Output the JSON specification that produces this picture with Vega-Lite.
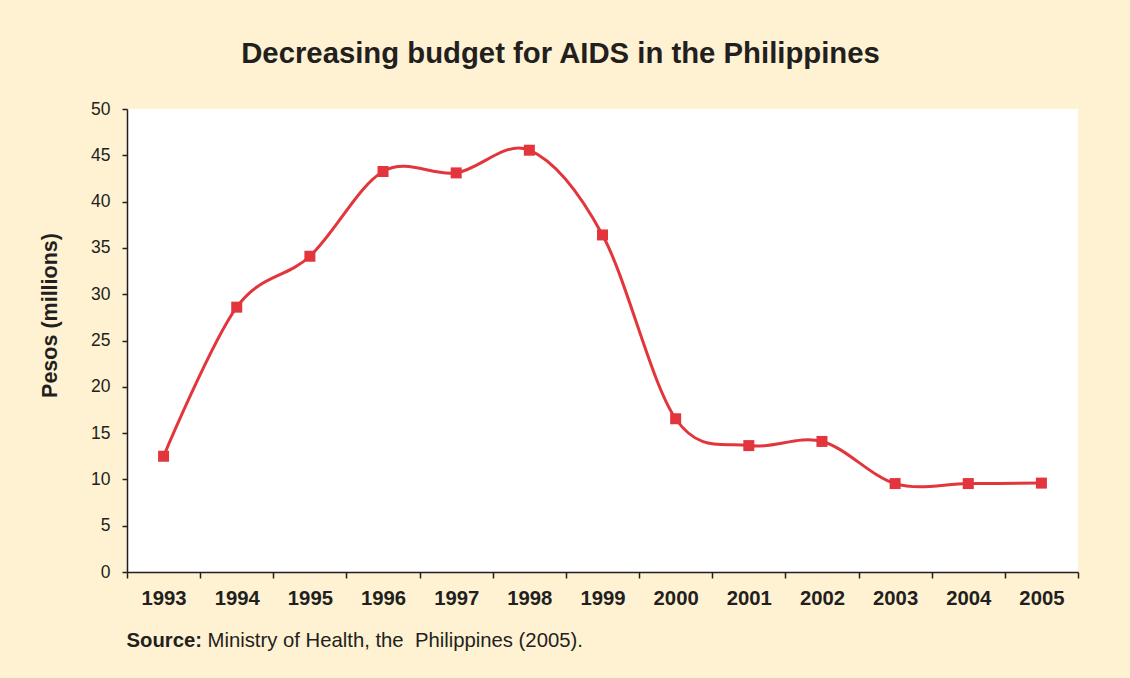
{
  "$schema": "https://vega.github.io/schema/vega-lite/v6.json",
  "width": 951,
  "height": 463,
  "autosize": {"type": "none"},
  "padding": {"left": 127, "top": 109, "right": 52, "bottom": 106},
  "background": "#FEF2D2",
  "title": {
    "text": "Decreasing budget for AIDS in the Philippines",
    "font": "Liberation Sans",
    "fontSize": 29.3,
    "fontWeight": "bold",
    "color": "#231F20",
    "anchor": "middle",
    "dx": -42,
    "offset": 31
  },
  "config": {
    "view": {"fill": "white", "stroke": null},
    "font": "Liberation Sans"
  },
  "data": {
    "values": [
      {"year": "1993", "pesos": 12.5},
      {"year": "1994", "pesos": 28.6},
      {"year": "1995", "pesos": 34.1},
      {"year": "1996", "pesos": 43.25},
      {"year": "1997", "pesos": 43.1},
      {"year": "1998", "pesos": 45.55},
      {"year": "1999", "pesos": 36.4},
      {"year": "2000", "pesos": 16.55},
      {"year": "2001", "pesos": 13.65},
      {"year": "2002", "pesos": 14.1},
      {"year": "2003", "pesos": 9.55},
      {"year": "2004", "pesos": 9.55},
      {"year": "2005", "pesos": 9.6}
    ]
  },
  "encoding": {
    "y": {
      "field": "pesos",
      "type": "quantitative",
      "scale": {"domain": [0, 50]},
      "axis": {
        "values": [0, 5, 10, 15, 20, 25, 30, 35, 40, 45, 50],
        "grid": false,
        "tickSize": 5,
        "labelPadding": 12,
        "domainColor": "#231F20",
        "domainWidth": 1.5,
        "tickColor": "#231F20",
        "tickWidth": 1.5,
        "labelColor": "#231F20",
        "labelFont": "Liberation Sans",
        "labelFontSize": 17.5,
        "title": "Pesos (millions)",
        "titleFont": "Liberation Sans",
        "titleFontSize": 21.5,
        "titleFontWeight": "bold",
        "titleColor": "#231F20",
        "titleAngle": -90,
        "titleAlign": "center",
        "titleBaseline": "middle",
        "titleX": -77,
        "titleY": 206
      }
    }
  },
  "layer": [
    {
      "mark": {"type": "line", "interpolate": "cardinal", "color": "#E2353C", "strokeWidth": 3},
      "encoding": {
        "x": {
          "field": "year",
          "type": "ordinal",
          "scale": {"type": "band", "paddingInner": 0, "paddingOuter": 0},
          "axis": {
            "orient": "bottom",
            "labelAngle": 0,
            "tickBand": "extent",
            "tickSize": 6,
            "tickColor": "#231F20",
            "tickWidth": 1.5,
            "domainColor": "#231F20",
            "domainWidth": 1.5,
            "labelColor": "#231F20",
            "labelFont": "Liberation Sans",
            "labelFontSize": 20.3,
            "labelFontWeight": "bold",
            "labelPadding": 10,
            "title": "Source:",
            "titleFont": "Liberation Sans",
            "titleFontSize": 20.3,
            "titleFontWeight": "bold",
            "titleColor": "#231F20",
            "titleAlign": "left",
            "titleBaseline": "alphabetic",
            "titleX": -1,
            "titleY": 74
          }
        }
      }
    },
    {
      "mark": {"type": "point", "shape": "square", "filled": true, "size": 121, "color": "#E2353C", "opacity": 1},
      "encoding": {
        "x": {
          "field": "year",
          "type": "ordinal",
          "scale": {"type": "band", "paddingInner": 0, "paddingOuter": 0},
          "axis": {
            "orient": "bottom",
            "labels": false,
            "ticks": false,
            "domain": false,
            "title": "Ministry of Health, the \u00a0Philippines (2005).",
            "titleFont": "Liberation Sans",
            "titleFontSize": 20.3,
            "titleFontWeight": "normal",
            "titleColor": "#231F20",
            "titleAlign": "left",
            "titleBaseline": "alphabetic",
            "titleX": 80,
            "titleY": 74
          }
        }
      }
    }
  ],
  "resolve": {"axis": {"x": "independent"}}
}
